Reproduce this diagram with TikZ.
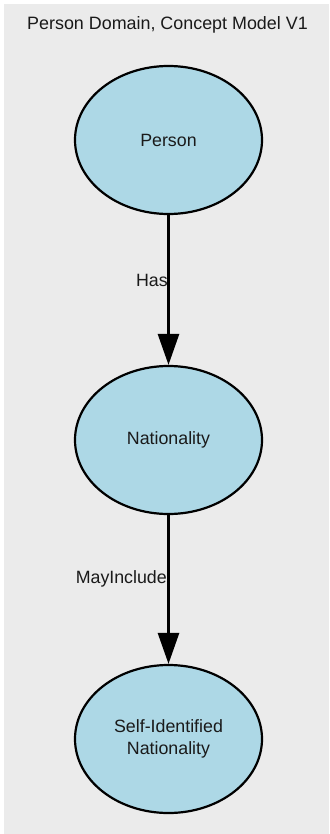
\documentclass[tikz,border=0pt]{standalone}
\usepackage{fontspec}
\setmainfont{Liberation Sans}
\usetikzlibrary{shapes.geometric,arrows.meta}
\definecolor{bggray}{HTML}{EBEBEB}
\definecolor{nodeblue}{HTML}{ADD8E6}
\definecolor{txt}{HTML}{1A1A1A}
\begin{document}
\begin{tikzpicture}[x=1pt,y=1pt,
  concept/.style={ellipse, draw=black, line width=2.2pt, fill=nodeblue,
    minimum width=187pt, minimum height=148pt, inner sep=0pt,
    align=center, text=txt, font=\fontsize{17.8}{22}\selectfont},
  rel/.style={draw=black, line width=2.7pt, -{Triangle[length=31pt,width=21pt]}},
  rellabel/.style={anchor=east, inner sep=0pt, text=txt, font=\fontsize{17.8}{21}\selectfont},
  titletext/.style={inner sep=0pt, text=txt, font=\fontsize{17.9}{21}\selectfont}]
\useasboundingbox (0,0) rectangle (329,-834);
\fill[bggray] (4,-4) rectangle (329,-834);
\node[titletext] (title) at (167.5,-25) {Person Domain, Concept Model V1};
\node[concept] (person) at (168.5,-140) {Person};
\node[concept] (nat) at (168.5,-440) {Nationality};
\node[concept] (self) at (168.5,-739) {Self-Identified\\Nationality};
\draw[rel] (person) -- (nat);
\draw[rel] (nat) -- (self);
\node[rellabel] (has) at (168,-280) {Has};
\node[rellabel] (may) at (167,-579) {MayInclude};
\end{tikzpicture}
\end{document}
